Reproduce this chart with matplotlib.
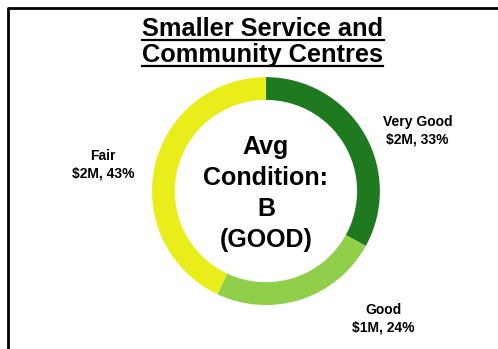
import matplotlib.pyplot as plt
from matplotlib.lines import Line2D

plt.rcParams['font.family'] = ['Liberation Sans', 'DejaVu Sans']

# condition breakdown, clockwise from 12 o'clock
conditions = ["Very Good", "Good", "Fair"]
amounts = ["$2M", "$1M", "$2M"]
shares = [33, 24, 43]
colors = ["#1f7a1f", "#8fcf4a", "#e9ee1a"]

title_lines = ["Smaller Service and", "Community Centres"]
centre_text = "Avg\nCondition:\nB\n(GOOD)"

fig = plt.figure(figsize=(4.98, 3.49), dpi=100)
fig.patch.set_facecolor("white")

# donut
ax = fig.add_axes([0.305, 0.126, 0.458, 0.653])
ax.pie(shares, colors=colors, startangle=90, counterclock=False,
       wedgeprops=dict(width=0.2, linewidth=0))
ax.set_xlim(-1, 1)
ax.set_ylim(-1, 1)
ax.set_aspect("equal")
ax.axis("off")

ax.text(0, -0.02, centre_text, ha="center", va="center", fontsize=18,
        fontweight="bold", linespacing=1.38)

# category labels
label_pos = [(1.33, 0.53), (1.03, -1.12), (-1.43, 0.23)]
for (x, y), name, amt, pct in zip(label_pos, conditions, amounts, shares):
    ax.text(x, y, f"{name}\n{amt}, {pct}%", ha="center", va="center",
            fontsize=10, fontweight="bold", linespacing=1.25)

# title with underline
title_y = [0.917, 0.843]
titles = [fig.text(0.528, y, s, ha="center", va="center", fontsize=18.3,
                   fontweight="bold") for s, y in zip(title_lines, title_y)]
fig.canvas.draw()
renderer = fig.canvas.get_renderer()
inv = fig.transFigure.inverted()
for t in titles:
    bb = t.get_window_extent(renderer).transformed(inv)
    fig.add_artist(Line2D([bb.x0, bb.x1], [bb.y0 + 0.002, bb.y0 + 0.002],
                          transform=fig.transFigure, color="black", lw=1.6))

# frame on left and top
fig.add_artist(Line2D([0.0155, 0.0155, 1.0], [0.0, 0.976, 0.976],
                      transform=fig.transFigure, color="black", lw=2.0))

fig.savefig("out.png", dpi=100)
